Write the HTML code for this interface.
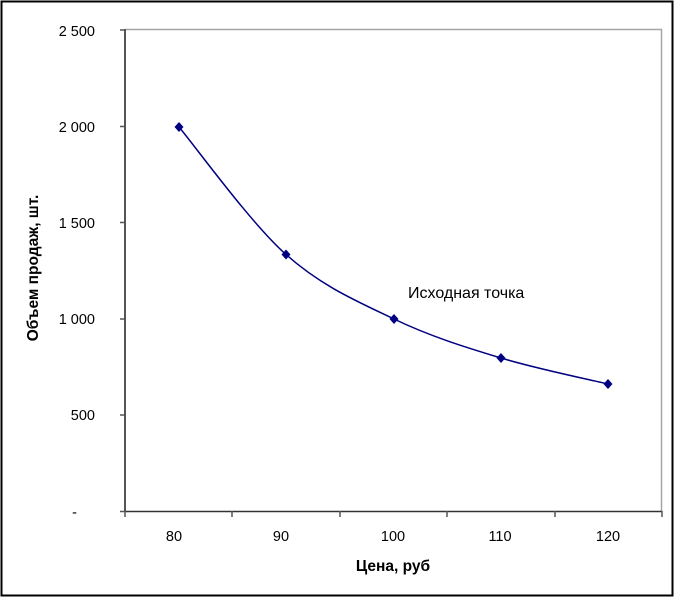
<!DOCTYPE html>
<html><head><meta charset="utf-8"><style>
html,body{margin:0;padding:0;background:#fff;}
svg{display:block;font-family:"Liberation Sans",Arial,sans-serif;}
</style></head><body>
<svg width="674" height="597" viewBox="0 0 674 597">
<rect x="1.5" y="1.5" width="671" height="594" fill="#fff" stroke="#000" stroke-width="2"/>
<line x1="125" y1="29.5" x2="662" y2="29.5" stroke="#a6a6a6" stroke-width="1.5"/>
<line x1="661.5" y1="29" x2="661.5" y2="512" stroke="#a6a6a6" stroke-width="1.5"/>
<line x1="125" y1="29" x2="125" y2="512" stroke="#555" stroke-width="2"/>
<line x1="125" y1="511.5" x2="662" y2="511.5" stroke="#333" stroke-width="1.5"/>
<g stroke="#555" stroke-width="1.5">
<line x1="120" y1="30" x2="125" y2="30"/><line x1="120" y1="126.5" x2="125" y2="126.5"/>
<line x1="120" y1="222.5" x2="125" y2="222.5"/><line x1="120" y1="319" x2="125" y2="319"/>
<line x1="120" y1="415" x2="125" y2="415"/><line x1="120" y1="511.5" x2="125" y2="511.5"/>
<line x1="125" y1="511" x2="125" y2="517"/><line x1="232" y1="511" x2="232" y2="517"/>
<line x1="340" y1="511" x2="340" y2="517"/><line x1="447" y1="511" x2="447" y2="517"/>
<line x1="555" y1="511" x2="555" y2="517"/><line x1="662" y1="511" x2="662" y2="517"/>
</g>
<g font-size="14.5" fill="#000" text-anchor="end">
<text x="95" y="36">2 500</text><text x="95" y="132">2 000</text>
<text x="95" y="228">1 500</text><text x="95" y="324">1 000</text>
<text x="95" y="420">500</text><text x="77" y="517">-</text>
</g>
<g font-size="14.5" fill="#000" text-anchor="middle">
<text x="174" y="541">80</text><text x="281" y="541">90</text>
<text x="393" y="541">100</text><text x="500" y="541">110</text><text x="608" y="541">120</text>
</g>
<text x="393" y="571" font-size="15.5" font-weight="bold" text-anchor="middle">Цена, руб</text>
<text transform="translate(38,268) rotate(-90)" font-size="15.5" font-weight="bold" text-anchor="middle">Объем продаж, шт.</text>
<text x="408" y="298" font-size="16">Исходная точка</text>
<path d="M179,127 C196.8,148.25 250.2,222.5 286,254.5 C321.8,286.5 358.2,301.75 394,319 C429.8,336.25 465.3,347.2 501,358 C536.7,368.8 590.2,379.7 608,384" fill="none" stroke="#000080" stroke-width="1.5"/>
<g fill="#000080">
<polygon points="179,122 183.5,127 179,132 174.5,127"/>
<polygon points="286,249.5 290.5,254.5 286,259.5 281.5,254.5"/>
<polygon points="394,314 398.5,319 394,324 389.5,319"/>
<polygon points="501,353 505.5,358 501,363 496.5,358"/>
<polygon points="608,379 612.5,384 608,389 603.5,384"/>
</g>
</svg>
</body></html>
